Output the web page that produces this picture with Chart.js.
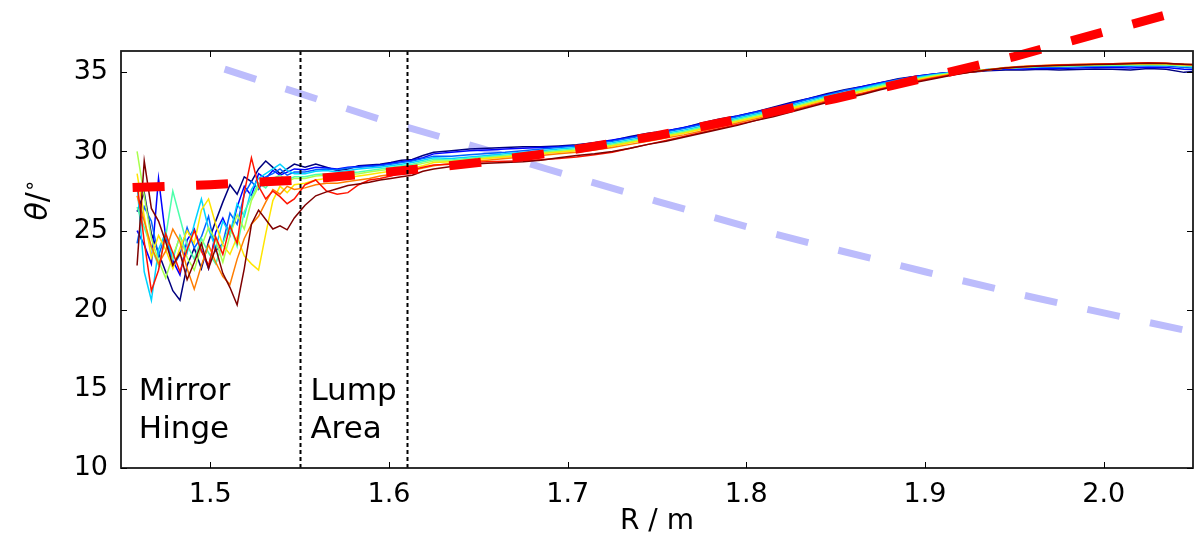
<!DOCTYPE html>
<html>
<head>
<meta charset="utf-8">
<script src="https://cdn.jsdelivr.net/npm/chart.js@4.4.1/dist/chart.umd.min.js"></script>
<style>
  html, body { margin: 0; padding: 0; background: #fff; }
  #wrap { width: 1202px; height: 542px; }
</style>
</head>
<body>
<div id="wrap"><canvas id="myChart" width="1202" height="542"></canvas></div>
<script>
// shared R positions of the measured profiles
const rVals = [
  1.459, 1.463, 1.467, 1.471, 1.475, 1.479, 1.483, 1.487, 1.491, 1.495, 1.499, 1.503,
  1.507, 1.511, 1.515, 1.519, 1.523, 1.527, 1.531, 1.535, 1.539, 1.543, 1.547,
  1.553, 1.559, 1.565, 1.571, 1.577, 1.583, 1.589, 1.595, 1.601, 1.607, 1.613, 1.619, 1.625,
  1.635, 1.645, 1.655, 1.665, 1.675, 1.685, 1.695, 1.705, 1.715, 1.725,
  1.735, 1.745, 1.755, 1.765, 1.775, 1.785, 1.795, 1.805, 1.815, 1.825,
  1.835, 1.845, 1.855, 1.865, 1.875, 1.885, 1.895, 1.905, 1.915, 1.925,
  1.935, 1.945, 1.955, 1.965, 1.975, 1.985, 1.995, 2.005, 2.015, 2.025,
  2.035, 2.045, 2.05
];

const theta1 = [
  26.2, 27.4, 24.8, 23.6, 22.4, 21.2, 20.6, 22.8, 23.9, 22.6, 24.3, 25.6, 26.8, 27.9, 27.3, 28.4, 28.1, 28.9, 29.4, 29.0, 28.6, 28.9, 29.2,
  29.0, 29.2, 29.0, 28.8, 28.9, 29.1, 29.15, 29.2, 29.3, 29.45, 29.5, 29.75, 29.95,
  30.05, 30.15, 30.2, 30.25, 30.3, 30.3, 30.35, 30.42, 30.55, 30.7,
  30.95, 31.15, 31.3, 31.5, 31.8, 32.05, 32.25, 32.5, 32.8, 33.1,
  33.35, 33.65, 33.9, 34.1, 34.35, 34.6, 34.75, 34.9, 35.0, 35.0,
  35.1, 35.15, 35.15, 35.2, 35.15, 35.18, 35.22, 35.2, 35.15, 35.25,
  35.2, 35.0, 35.05
];
const theta2 = [
  25.0, 24.1, 22.9, 28.3, 24.6, 23.1, 22.2, 24.4, 25.1, 23.8, 22.6, 24.9, 25.8, 24.7, 26.5, 27.8, 27.2, 28.6, 28.3, 28.8, 28.5, 28.7, 28.9,
  28.85, 29.0, 28.95, 28.9, 29.0, 29.05, 29.1, 29.15, 29.25, 29.35, 29.45, 29.6, 29.85,
  29.95, 30.05, 30.1, 30.15, 30.2, 30.25, 30.3, 30.38, 30.55, 30.72,
  30.9, 31.1, 31.3, 31.52, 31.75, 32.0, 32.25, 32.5, 32.75, 33.05,
  33.35, 33.6, 33.85, 34.1, 34.35, 34.55, 34.75, 34.9, 35.0, 35.05,
  35.15, 35.2, 35.22, 35.25, 35.25, 35.28, 35.3, 35.3, 35.28, 35.32,
  35.3, 35.2, 35.18
];
const theta3 = [
  24.2, 26.5, 25.6, 23.4, 24.8, 22.7, 23.5, 25.2, 23.9, 24.6, 25.9, 23.7, 24.2, 26.1, 25.4, 27.3, 28.1, 27.6, 28.4, 28.6, 28.9, 28.5, 28.7,
  28.7, 28.85, 28.9, 28.85, 28.95, 29.0, 29.05, 29.1, 29.2, 29.3, 29.4, 29.55, 29.7,
  29.7, 29.8, 29.88, 29.95, 30.05, 30.15, 30.25, 30.35, 30.5, 30.65,
  30.85, 31.05, 31.25, 31.45, 31.7, 31.95, 32.2, 32.45, 32.7, 33.0,
  33.3, 33.55, 33.85, 34.05, 34.3, 34.55, 34.72, 34.88, 35.0, 35.08,
  35.18, 35.25, 35.3, 35.32, 35.33, 35.36, 35.38, 35.4, 35.38, 35.42,
  35.4, 35.3, 35.28
];
const theta4 = [
  27.9, 22.4, 20.6, 23.8, 24.9, 23.2, 24.7, 23.6, 25.4, 27.0, 25.1, 23.9, 25.6, 24.8, 26.7, 25.9, 27.6, 28.3, 28.6, 28.9, 29.2, 28.8, 28.6,
  28.6, 28.75, 28.8, 28.7, 28.8, 28.9, 28.95, 29.0, 29.1, 29.2, 29.3, 29.45, 29.6,
  29.55, 29.65, 29.75, 29.85, 29.95, 30.05, 30.15, 30.25, 30.4, 30.55,
  30.75, 30.95, 31.15, 31.35, 31.6, 31.85, 32.1, 32.35, 32.6, 32.9,
  33.2, 33.5, 33.75, 34.0, 34.25, 34.5, 34.68, 34.85, 34.98, 35.08,
  35.18, 35.28, 35.33, 35.38, 35.4, 35.43, 35.45, 35.46, 35.47, 35.5,
  35.48, 35.4, 35.36
];
const theta5 = [
  26.5, 25.2, 23.9, 22.8, 24.6, 27.5, 25.8, 24.1, 23.2, 24.5, 23.6, 22.9, 24.2, 25.3, 24.0, 26.2, 27.1, 28.0, 27.7, 28.3, 28.5, 28.2, 28.4,
  28.4, 28.55, 28.6, 28.55, 28.65, 28.7, 28.8, 28.9, 29.0, 29.1, 29.2, 29.35, 29.5,
  29.47, 29.57, 29.67, 29.77, 29.87, 29.97, 30.07, 30.17, 30.32, 30.47,
  30.67, 30.87, 31.07, 31.27, 31.52, 31.77, 32.02, 32.27, 32.52, 32.82,
  33.12, 33.42, 33.67, 33.92, 34.17, 34.42, 34.62, 34.82, 34.97, 35.07,
  35.17, 35.27, 35.32, 35.37, 35.4, 35.42, 35.44, 35.45, 35.47, 35.49,
  35.47, 35.42, 35.4
];
const theta6 = [
  30.0, 27.2, 24.5, 23.1, 22.0, 23.4, 24.6, 23.3, 22.5, 24.0, 25.2, 24.4, 23.0, 24.7, 26.0, 25.1, 26.9, 27.8, 28.2, 28.0, 28.3, 28.1, 28.3,
  28.3, 28.45, 28.5, 28.45, 28.55, 28.6, 28.7, 28.8, 28.9, 29.0, 29.1, 29.25, 29.4,
  29.4, 29.5, 29.6, 29.7, 29.8, 29.9, 30.0, 30.1, 30.25, 30.4,
  30.6, 30.8, 31.0, 31.2, 31.45, 31.7, 31.95, 32.2, 32.45, 32.75,
  33.05, 33.35, 33.6, 33.85, 34.1, 34.35, 34.56, 34.77, 34.93, 35.05,
  35.16, 35.27, 35.33, 35.38, 35.41, 35.44, 35.46, 35.48, 35.5, 35.52,
  35.5, 35.45, 35.43
];
const theta7 = [
  28.6, 25.9, 23.3, 24.7, 23.8, 22.6, 23.9, 25.0, 24.2, 26.3, 27.0, 25.4, 24.1, 23.5, 24.6, 23.4, 22.9, 22.5, 24.8, 26.9, 27.8, 27.4, 27.9,
  28.0, 28.2, 28.3, 28.25, 28.35, 28.45, 28.55, 28.65, 28.75, 28.85, 28.95, 29.1, 29.3,
  29.35, 29.45, 29.55, 29.65, 29.75, 29.85, 29.95, 30.05, 30.2, 30.35,
  30.55, 30.75, 30.95, 31.15, 31.4, 31.65, 31.9, 32.15, 32.4, 32.7,
  33.0, 33.3, 33.55, 33.8, 34.05, 34.3, 34.52, 34.74, 34.92, 35.05,
  35.17, 35.28, 35.35, 35.4, 35.44, 35.47, 35.49, 35.51, 35.53, 35.55,
  35.53, 35.48, 35.46
];
const theta8 = [
  27.2, 25.6, 24.0, 22.9, 23.7, 25.1, 24.3, 22.6, 21.3, 22.8, 24.1, 23.0, 22.1, 21.6, 23.2, 24.5, 25.4, 25.9, 26.8, 27.6, 27.3, 27.8, 27.6,
  27.7, 27.9, 28.0, 28.0, 28.1, 28.2, 28.3, 28.45, 28.55, 28.65, 28.8, 28.95, 29.1,
  29.25, 29.35, 29.45, 29.55, 29.65, 29.75, 29.85, 29.95, 30.1, 30.25,
  30.45, 30.65, 30.85, 31.05, 31.3, 31.55, 31.8, 32.05, 32.3, 32.6,
  32.9, 33.2, 33.45, 33.7, 33.95, 34.2, 34.45, 34.68, 34.88, 35.03,
  35.17, 35.3, 35.38, 35.44, 35.48, 35.5, 35.53, 35.55, 35.57, 35.6,
  35.58, 35.52, 35.5
];
const theta9 = [
  28.0, 24.3, 21.2, 22.5, 24.8, 23.6, 22.4, 23.8, 25.0, 23.7, 22.8, 24.6, 23.5, 25.3, 24.2, 27.4, 29.6, 27.8, 27.0, 27.5, 27.15, 26.7, 27.0,
  27.9, 28.2, 27.5, 27.3, 27.4, 27.9, 28.2, 28.3, 28.45, 28.65, 28.85, 29.0, 29.15,
  29.2, 29.3, 29.35, 29.38, 29.42, 29.48, 29.55, 29.65, 29.8, 29.95,
  30.2, 30.45, 30.7, 30.95, 31.2, 31.45, 31.7, 31.95, 32.25, 32.55,
  32.85, 33.15, 33.4, 33.65, 33.95, 34.2, 34.42, 34.65, 34.85, 35.0,
  35.15, 35.28, 35.36, 35.42, 35.46, 35.5, 35.52, 35.54, 35.57, 35.6,
  35.57, 35.5, 35.48
];
const theta10 = [
  22.8, 29.4, 26.4, 25.6, 24.3, 22.8, 23.6, 21.9, 23.0, 24.2, 22.6, 23.9, 22.3, 21.4, 20.3, 22.6, 25.4, 26.3, 25.7, 25.1, 25.3, 25.05, 25.8,
  26.6, 27.2, 27.45, 27.65, 27.85, 27.95, 28.05, 28.2, 28.3, 28.4, 28.5, 28.75, 28.9,
  29.05, 29.2, 29.25, 29.3, 29.35, 29.45, 29.6, 29.75, 29.85, 30.0,
  30.2, 30.45, 30.65, 30.9, 31.15, 31.4, 31.65, 31.95, 32.2, 32.5,
  32.8, 33.1, 33.35, 33.6, 33.9, 34.15, 34.38, 34.6, 34.82, 35.0,
  35.15, 35.28, 35.35, 35.4, 35.43, 35.47, 35.5, 35.52, 35.55, 35.58,
  35.56, 35.52, 35.5
];
const profiles = [theta1, theta2, theta3, theta4, theta5, theta6, theta7, theta8, theta9, theta10];
const profileColors = ['#00007f', '#0000ff', '#0063ff', '#00d4ff', '#4dffaa', '#a9ff4d', '#ffe500', '#ff7d00', '#ff1400', '#7f0000'];

// red dashed fit
const fitR = [1.4565, 1.50, 1.55, 1.60, 1.65, 1.70, 1.75, 1.80, 1.85, 1.90, 1.95, 2.00, 2.05];
const fitTheta = [27.72, 27.9, 28.2, 28.7, 29.3, 30.05, 31.0, 32.15, 33.35, 34.65, 36.0, 37.55, 39.1];

// light blue dashed curve
const blueR = [1.508, 1.55, 1.60, 1.653, 1.687, 1.75, 1.80, 1.85, 1.90, 1.95, 2.00, 2.05];
const blueTheta = [35.2, 33.67, 31.85, 30.15, 28.94, 26.85, 25.25, 23.8, 22.4, 21.05, 19.8, 18.6];

const xTicks = [1.5, 1.6, 1.7, 1.8, 1.9, 2.0];
const yTicks = [10, 15, 20, 25, 30, 35];
const regionEdges = [1.55, 1.61];
const regionLabels = [
  { r: 1.46, lines: ['Mirror', 'Hinge'] },
  { r: 1.556, lines: ['Lump', 'Area'] }
];
const labelRows = [14.3, 11.9];

const FONT = 'DejaVu Sans';

const pts = (xs, ys) => xs.map((x, i) => ({ x: x, y: ys[i] }));

const datasets = [];
datasets.push({
  data: pts(fitR, fitTheta),
  borderColor: '#ff0000',
  borderWidth: 9,
  borderDash: [32, 31.5],
  pointRadius: 0,
  clip: false,
  order: 0
});
profiles.forEach((ys, i) => {
  datasets.push({
    data: pts(rVals, ys),
    borderColor: profileColors[i],
    borderWidth: 1.5,
    pointRadius: 0,
    order: profiles.length - i
  });
});
datasets.push({
  data: pts(blueR, blueTheta),
  borderColor: 'rgba(188, 188, 252, 1)',
  borderWidth: 7,
  borderDash: [33, 31],
  pointRadius: 0,
  order: 20
});

const framePlugin = {
  id: 'frame',
  afterDatasetsDraw(chart) {
    const { ctx, chartArea: a, scales: { x, y } } = chart;
    ctx.save();

    // region edges
    ctx.strokeStyle = '#000';
    ctx.lineWidth = 2;
    ctx.setLineDash([4, 3]);
    regionEdges.forEach(v => {
      const px = Math.round(x.getPixelForValue(v)) + 0.5;
      ctx.beginPath();
      ctx.moveTo(px, a.top);
      ctx.lineTo(px, a.bottom);
      ctx.stroke();
    });
    ctx.setLineDash([]);

    // region labels
    ctx.fillStyle = '#000';
    ctx.font = '31px "' + FONT + '"';
    ctx.textAlign = 'left';
    ctx.textBaseline = 'alphabetic';
    regionLabels.forEach(l => {
      l.lines.forEach((t, i) => {
        ctx.fillText(t, x.getPixelForValue(l.r), y.getPixelForValue(labelRows[i]));
      });
    });

    // frame
    ctx.strokeStyle = '#1a1a1a';
    ctx.lineWidth = 1.8;
    ctx.strokeRect(a.left, a.top, a.right - a.left, a.bottom - a.top);

    // inward ticks
    ctx.lineWidth = 1;
    ctx.strokeStyle = '#000';
    const seg = (x1, y1, x2, y2) => { ctx.beginPath(); ctx.moveTo(x1, y1); ctx.lineTo(x2, y2); ctx.stroke(); };
    xTicks.forEach(v => {
      const px = Math.round(x.getPixelForValue(v)) + 0.5;
      seg(px, a.bottom, px, a.bottom - 6);
      seg(px, a.top, px, a.top + 6);
    });
    yTicks.forEach(v => {
      const py = Math.round(y.getPixelForValue(v)) + 0.5;
      seg(a.left, py, a.left + 6, py);
      seg(a.right, py, a.right - 6, py);
    });

    // y title: theta / degree
    ctx.translate(47, 200);
    ctx.rotate(-Math.PI / 2);
    ctx.textBaseline = 'alphabetic';
    ctx.textAlign = 'left';
    const fTheta = 'italic 30px "' + FONT + '"';
    const fSlash = '30px "' + FONT + '"';
    const fDeg = '20px "' + FONT + '"';
    ctx.font = fTheta; const w1 = ctx.measureText('θ').width;
    ctx.font = fSlash; const w2 = ctx.measureText('/').width;
    ctx.font = fDeg; const w3 = ctx.measureText('∘').width;
    let cx = -(w1 + w2 + w3) / 2;
    ctx.font = fTheta; ctx.fillText('θ', cx, 0); cx += w1;
    ctx.font = fSlash; ctx.fillText('/', cx, 0); cx += w2;
    ctx.font = fDeg; ctx.fillText('∘', cx, -11);

    ctx.restore();
  }
};

new Chart(document.getElementById('myChart'), {
  type: 'line',
  data: { datasets: datasets },
  options: {
    responsive: false,
    animation: false,
    events: [],
    layout: { padding: { top: 51, right: 9, left: 0, bottom: 0 } },
    elements: { line: { tension: 0, borderCapStyle: 'butt' } },
    scales: {
      x: {
        type: 'linear',
        min: 1.45,
        max: 2.05,
        grid: { display: false, drawTicks: false },
        border: { display: false },
        afterBuildTicks: s => { s.ticks = xTicks.map(v => ({ value: v })); },
        afterFit: s => { s.height = 74; },
        ticks: {
          color: '#000',
          font: { family: FONT, size: 27 },
          padding: 11,
          maxRotation: 0,
          autoSkip: false,
          callback: v => v.toFixed(1)
        },
        title: {
          display: true,
          text: 'R / m',
          color: '#000',
          font: { family: FONT, size: 28 },
          padding: { top: 0, bottom: 3 }
        }
      },
      y: {
        min: 10,
        max: 36.35,
        grid: { display: false, drawTicks: false },
        border: { display: false },
        afterBuildTicks: s => { s.ticks = yTicks.map(v => ({ value: v })); },
        afterFit: s => { s.width = 121; },
        ticks: {
          color: '#000',
          font: { family: FONT, size: 27 },
          padding: 13,
          callback: v => String(v)
        }
      }
    },
    plugins: {
      legend: { display: false },
      tooltip: { enabled: false }
    }
  },
  plugins: [framePlugin]
});
</script>
</body>
</html>
